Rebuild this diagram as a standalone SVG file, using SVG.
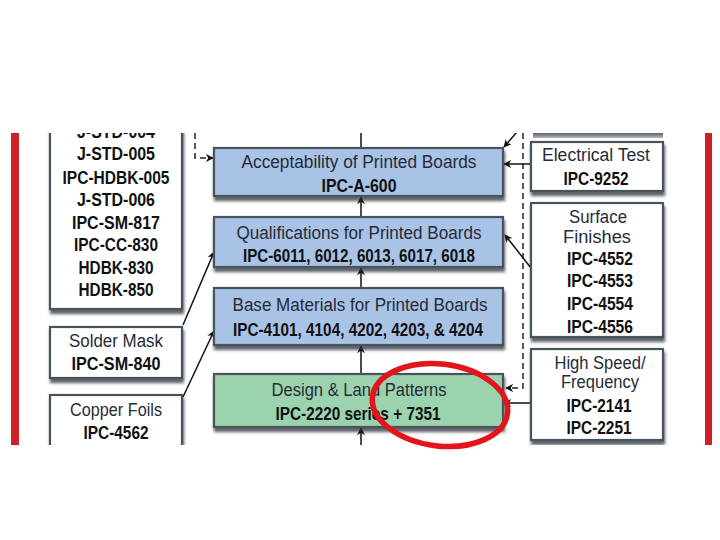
<svg xmlns="http://www.w3.org/2000/svg" width="720" height="540" viewBox="0 0 720 540">
<style>
.box{stroke:#4a535c;stroke-width:2.2}
.blue{fill:#a9c3e7}
.green{fill:#9bd3ae}
.white{fill:#ffffff}
.t{font-family:"Liberation Sans",Arial,sans-serif;font-size:18px;text-anchor:middle;fill:#262b36}
.b{font-family:"Liberation Sans",Arial,sans-serif;font-size:18.5px;font-weight:bold;text-anchor:middle;fill:#111111}
.ln{stroke:#111;stroke-width:1.5;fill:none}
.dash{stroke:#222;stroke-width:1.5;fill:none;stroke-dasharray:6 4}
</style>
<defs>
<clipPath id="clip"><rect x="0" y="133" width="720" height="312"/></clipPath>
<filter id="sh" x="-5%" y="-10%" width="110%" height="130%">
<feDropShadow dx="1" dy="4" stdDeviation="1.5" flood-color="#2a2f35" flood-opacity="0.75"/>
</filter>
<marker id="ah" viewBox="0 0 10 10" refX="9" refY="5" markerWidth="8" markerHeight="8" markerUnits="userSpaceOnUse" orient="auto">
<path d="M0,0 L10,5 L0,10 L3,5 z" fill="#111"/>
</marker>
<linearGradient id="topsh" x1="0" y1="0" x2="0" y2="1">
<stop offset="0" stop-color="#4a4f55"/><stop offset="1" stop-color="#b5b9bd"/>
</linearGradient>
</defs>
<rect width="720" height="540" fill="#ffffff"/>
<rect x="11" y="133" width="8" height="312" fill="#d0212b"/>
<rect x="705" y="133" width="7" height="312" fill="#d0212b"/>
<g clip-path="url(#clip)">
<g id="connectors">
<line class="ln" x1="361" y1="133" x2="361" y2="148"/>
<line class="ln" x1="361" y1="217" x2="361" y2="197" marker-end="url(#ah)"/>
<line class="ln" x1="361" y1="288" x2="361" y2="268" marker-end="url(#ah)"/>
<line class="ln" x1="361" y1="374" x2="361" y2="346" marker-end="url(#ah)"/>
<line class="ln" x1="361" y1="445" x2="361" y2="428" marker-end="url(#ah)"/>
<path class="dash" d="M195,133 V158 H213" marker-end="url(#ah)"/>
<line class="ln" x1="517" y1="132" x2="504" y2="147" marker-end="url(#ah)"/>
<line class="ln" x1="531" y1="164" x2="504" y2="164" marker-end="url(#ah)"/>
<path class="dash" d="M523,133 V388 H506" marker-end="url(#ah)"/>
<line class="ln" x1="531" y1="268" x2="505" y2="235" marker-end="url(#ah)"/>
<line class="ln" x1="531" y1="403" x2="504" y2="403" marker-end="url(#ah)"/>
<line class="ln" x1="183" y1="325" x2="214" y2="252" marker-end="url(#ah)"/>
<line class="ln" x1="183" y1="397" x2="214" y2="331" marker-end="url(#ah)"/>
</g>
<rect x="533" y="132" width="130" height="6" fill="url(#topsh)"/>
<g id="left-standards">
<rect class="box white" x="50" y="100" width="132" height="209" filter="url(#sh)"/>
<text class="b" x="116" y="137.5" textLength="78" lengthAdjust="spacingAndGlyphs">J-STD-004</text>
<text class="b" x="116" y="159.5" textLength="78" lengthAdjust="spacingAndGlyphs">J-STD-005</text>
<text class="b" x="116" y="183.5" textLength="107" lengthAdjust="spacingAndGlyphs">IPC-HDBK-005</text>
<text class="b" x="116" y="205.5" textLength="78" lengthAdjust="spacingAndGlyphs">J-STD-006</text>
<text class="b" x="116" y="228.5" textLength="88" lengthAdjust="spacingAndGlyphs">IPC-SM-817</text>
<text class="b" x="116" y="250.5" textLength="84" lengthAdjust="spacingAndGlyphs">IPC-CC-830</text>
<text class="b" x="116" y="273.5" textLength="75" lengthAdjust="spacingAndGlyphs">HDBK-830</text>
<text class="b" x="116" y="295.5" textLength="75" lengthAdjust="spacingAndGlyphs">HDBK-850</text>
</g>
<g id="solder-mask">
<rect class="box white" x="50" y="327" width="132" height="51" filter="url(#sh)"/>
<text class="t" x="116" y="347" textLength="94" lengthAdjust="spacingAndGlyphs">Solder Mask</text>
<text class="b" x="116" y="369.5" textLength="89" lengthAdjust="spacingAndGlyphs">IPC-SM-840</text>
</g>
<g id="copper-foils">
<rect class="box white" x="50" y="395" width="132" height="60" filter="url(#sh)"/>
<text class="t" x="116" y="416" textLength="92" lengthAdjust="spacingAndGlyphs">Copper Foils</text>
<text class="b" x="116" y="438.5" textLength="65" lengthAdjust="spacingAndGlyphs">IPC-4562</text>
</g>
<g id="acceptability">
<rect class="box blue" x="214" y="148" width="289" height="48" filter="url(#sh)"/>
<text class="t" x="359" y="168" textLength="235" lengthAdjust="spacingAndGlyphs">Acceptability of Printed Boards</text>
<text class="b" x="359" y="191.5" textLength="75" lengthAdjust="spacingAndGlyphs">IPC-A-600</text>
</g>
<g id="qualifications">
<rect class="box blue" x="214" y="217" width="289" height="50" filter="url(#sh)"/>
<text class="t" x="359" y="239" textLength="245" lengthAdjust="spacingAndGlyphs">Qualifications for Printed Boards</text>
<text class="b" x="359" y="261.5" textLength="232" lengthAdjust="spacingAndGlyphs">IPC-6011, 6012, 6013, 6017, 6018</text>
</g>
<g id="base-materials">
<rect class="box blue" x="214" y="288" width="289" height="57" filter="url(#sh)"/>
<text class="t" x="360" y="311" textLength="255" lengthAdjust="spacingAndGlyphs">Base Materials for Printed Boards</text>
<text class="b" x="358" y="335.5" textLength="250" lengthAdjust="spacingAndGlyphs">IPC-4101, 4104, 4202, 4203, &amp; 4204</text>
</g>
<g id="design">
<rect class="box green" x="214" y="374" width="289" height="53" filter="url(#sh)"/>
<text class="t" x="359" y="396" textLength="175" lengthAdjust="spacingAndGlyphs">Design &amp; Land Patterns</text>
<text class="b" x="358" y="419.5" textLength="165" lengthAdjust="spacingAndGlyphs">IPC-2220 series + 7351</text>
</g>
<g id="electrical-test">
<rect class="box white" x="531" y="142" width="132" height="49" filter="url(#sh)"/>
<text class="t" x="596" y="161" textLength="108" lengthAdjust="spacingAndGlyphs">Electrical Test</text>
<text class="b" x="596" y="184.5" textLength="65" lengthAdjust="spacingAndGlyphs">IPC-9252</text>
</g>
<g id="surface-finishes">
<rect class="box white" x="531" y="203" width="132" height="134" filter="url(#sh)"/>
<text class="t" x="598" y="223" textLength="58" lengthAdjust="spacingAndGlyphs">Surface</text>
<text class="t" x="597" y="243" textLength="68" lengthAdjust="spacingAndGlyphs">Finishes</text>
<text class="b" x="600" y="264.5" textLength="66" lengthAdjust="spacingAndGlyphs">IPC-4552</text>
<text class="b" x="600" y="286.5" textLength="66" lengthAdjust="spacingAndGlyphs">IPC-4553</text>
<text class="b" x="600" y="309.5" textLength="66" lengthAdjust="spacingAndGlyphs">IPC-4554</text>
<text class="b" x="600" y="332.5" textLength="66" lengthAdjust="spacingAndGlyphs">IPC-4556</text>
</g>
<g id="high-speed">
<rect class="box white" x="531" y="349" width="132" height="91" filter="url(#sh)"/>
<text class="t" x="600" y="369" textLength="91" lengthAdjust="spacingAndGlyphs">High Speed/</text>
<text class="t" x="600" y="388" textLength="78" lengthAdjust="spacingAndGlyphs">Frequency</text>
<text class="b" x="599" y="411.5" textLength="65" lengthAdjust="spacingAndGlyphs">IPC-2141</text>
<text class="b" x="599" y="433.5" textLength="65" lengthAdjust="spacingAndGlyphs">IPC-2251</text>
</g>
</g>
<ellipse cx="440" cy="405" rx="68" ry="41" transform="rotate(7 440 405)" fill="none" stroke="#e3141c" stroke-width="5.5"/>
</svg>
